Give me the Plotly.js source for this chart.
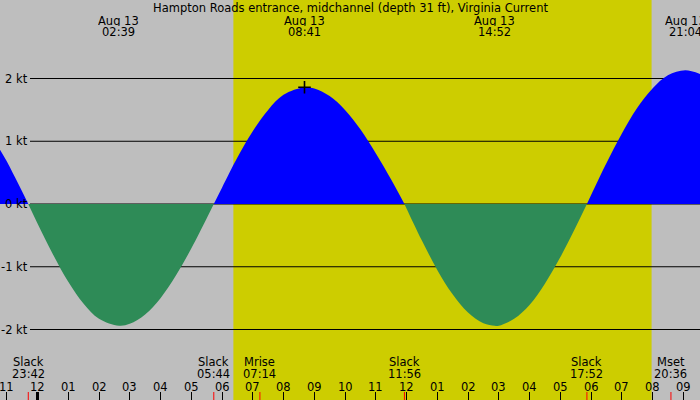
<!DOCTYPE html>
<html>
<head>
<meta charset="utf-8">
<script src="https://cdn.plot.ly/plotly-3.0.1.min.js"></script>
<style>html,body{margin:0;padding:0;background:#bebebe;}#chart{width:700px;height:400px;}</style>
</head>
<body>
<div id="chart"></div>
<script>
// ---- Data (hours from midnight Aug 13; knots, + = flood, - = ebb) ----
const hours = [-1.25, -1.0, -0.8, -0.5, -0.3,
  0, 0.5, 1, 1.5, 2, 2.65, 3, 3.5, 4, 4.5, 5, 5.5, 5.733,
  6, 6.5, 7, 7.5, 8, 8.683, 9, 9.5, 10, 10.5, 11, 11.5, 11.933,
  12, 12.5, 13, 13.5, 14, 14.5, 14.867, 15, 15.5, 16, 16.5, 17, 17.5, 17.867,
  18, 18.5, 19, 19.5, 20, 20.5, 21.067, 21.6];
const knots = [0.89, 0.68, 0.49, 0.20, 0,
  -0.31, -0.80, -1.24, -1.59, -1.83, -1.94, -1.91, -1.76, -1.50, -1.14, -0.71, -0.23, 0,
  0.26, 0.74, 1.16, 1.50, 1.74, 1.86, 1.84, 1.72, 1.50, 1.19, 0.81, 0.39, 0,
  -0.07, -0.58, -1.05, -1.44, -1.73, -1.90, -1.94, -1.94, -1.83, -1.61, -1.27, -0.85, -0.37, 0,
  0.14, 0.65, 1.12, 1.53, 1.84, 2.05, 2.13, 2.06];

const title = "Hampton Roads entrance, midchannel (depth 31 ft), Virginia Current";
const maxDates = ["Aug 13", "Aug 13", "Aug 13", "Aug 13"];
const maxTimes = ["02:39", "08:41", "14:52", "21:04"];
const maxHours = [2.65, 8.683, 14.867, 21.067];
const markedMaxIndex = 1;
const markedMaxKnots = 1.86;

const slackTimes = ["23:42", "05:44", "11:56", "17:52"];
const slackHours = [-0.3, 5.733, 11.933, 17.867];
const moonNames = ["Mrise", "Mset"];
const moonTimes = ["07:14", "20:36"];
const moonHours = [7.233, 20.6];

const sunriseHour = 6.37;
const sunsetHour = 19.97;

const hourTicks = [-1,0,1,2,3,4,5,6,7,8,9,10,11,12,13,14,15,16,17,18,19,20,21];
const hourLabels = ["11","12","01","02","03","04","05","06","07","08","09","10","11","12","01","02","03","04","05","06","07","08","09"];
const ktTicks = [-2, -1, 0, 1, 2];

// ---- Colours / styles ----
const GRAY = "#bebebe", YELLOW = "#cdcd00", BLUE = "#0000ff", GREEN = "#2e8b57";
const FONT = "DejaVu Sans";
const FS = 11.5;
const W = 700, H = 400;
const py = p => 1 - p / H; // pixel row -> paper y

// split into flood / ebb segments
const traces = [];
let segX = [hours[0]], segY = [knots[0]];
function pushSeg() {
  const s = segY.reduce((a, b) => a + b, 0);
  traces.push({x: segX, y: segY, type: "scatter", mode: "lines", fill: "tozeroy",
    line: {width: 0, shape: "spline", smoothing: 1}, fillcolor: s >= 0 ? BLUE : GREEN,
    hoverinfo: "skip", showlegend: false});
}
for (let i = 1; i < hours.length; i++) {
  segX.push(hours[i]); segY.push(knots[i]);
  if (knots[i] === 0 && i < hours.length - 1) {
    pushSeg();
    segX = [hours[i]]; segY = [knots[i]];
  }
}
pushSeg();

traces.push({x: [maxHours[markedMaxIndex]], y: [markedMaxKnots], type: "scatter", mode: "markers",
  marker: {symbol: "cross-thin", size: 9, line: {color: "black", width: 1.6}},
  hoverinfo: "skip", showlegend: false});

const shapes = [];
shapes.push({type: "rect", xref: "x", yref: "paper", x0: sunriseHour, x1: sunsetHour, y0: 0, y1: 1,
  fillcolor: YELLOW, line: {width: 0}, layer: "below"});
ktTicks.forEach(v => shapes.push({type: "line", xref: "paper", yref: "y", x0: 30 / W, x1: 1, y0: v, y1: v,
  line: {color: "black", width: 1}, layer: "below"}));
slackHours.concat(moonHours).forEach(h => shapes.push({type: "line", xref: "x", yref: "paper",
  x0: h, x1: h, y0: 0, y1: 8 / H, line: {color: "red", width: 1}}));
shapes.push({type: "line", xref: "x", yref: "paper", x0: 0, x1: 0, y0: 0, y1: 8 / H,
  line: {color: "black", width: 3}});

const annotations = [];
function txt(x, y, s) {
  annotations.push({x: x, xref: "x", y: y, yref: "paper", text: s, showarrow: false,
    xanchor: "center", yanchor: "middle", borderpad: 0, height: 11,
    font: {family: FONT, size: FS, color: "black"}});
}
annotations.push({x: 0.5, xref: "paper", y: py(8), yref: "paper", text: title, showarrow: false,
  xanchor: "center", yanchor: "middle", borderpad: 0, font: {family: FONT, size: FS, color: "black"}});
maxHours.forEach((h, i) => {
  txt(h, py(20), maxDates[i]);
  txt(h, py(32), maxTimes[i]);
});
slackHours.forEach((h, i) => {
  txt(h, py(361.5), "Slack");
  txt(h, py(373.5), slackTimes[i]);
});
moonHours.forEach((h, i) => {
  txt(h, py(361.5), moonNames[i]);
  txt(h, py(373.5), moonTimes[i]);
});
hourTicks.forEach((h, i) => txt(h, py(386), hourLabels[i]));
ktTicks.forEach(v => annotations.push({x: 28.5 / W, xref: "paper", y: v, yref: "y", text: v + " kt",
  showarrow: false, xanchor: "right", yanchor: "middle", borderpad: 0,
  font: {family: FONT, size: FS, color: "black"}}));

const x0 = -37.5 / 30.75, x1 = (W - 37.5) / 30.75;
const layout = {
  width: W, height: H, margin: {l: 0, r: 0, t: 0, b: 0, pad: 0},
  paper_bgcolor: GRAY, plot_bgcolor: GRAY,
  xaxis: {range: [x0, x1], tickvals: hourTicks, ticktext: hourLabels, ticks: "inside", ticklen: 8,
    tickcolor: "black", tickwidth: 1, showticklabels: false, showgrid: false, zeroline: false,
    showline: false, fixedrange: true},
  yaxis: {range: [-(H - 204) / 62.75, 204 / 62.75], showgrid: false, zeroline: false,
    showticklabels: false, ticks: "", fixedrange: true},
  shapes: shapes, annotations: annotations, showlegend: false
};
Plotly.newPlot("chart", traces, layout, {staticPlot: true, displayModeBar: false});
</script>
</body>
</html>
